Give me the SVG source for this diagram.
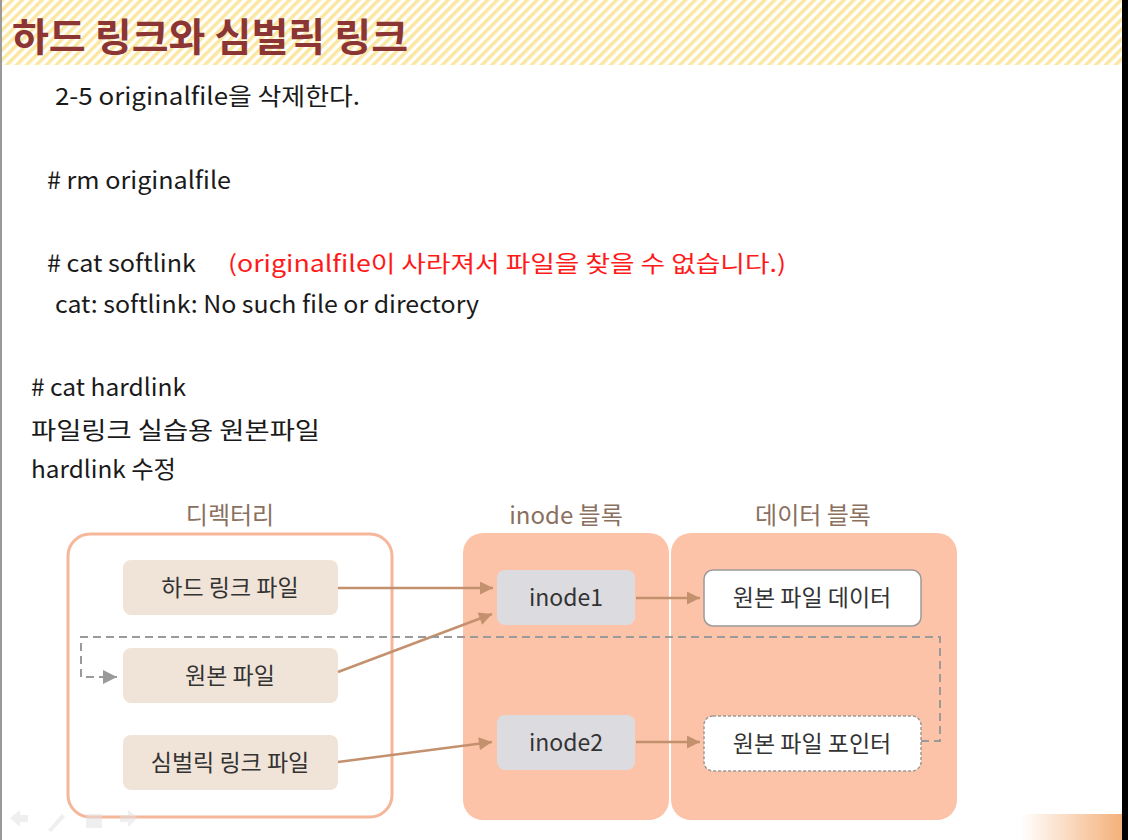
<svg xmlns="http://www.w3.org/2000/svg" width="1128" height="840" viewBox="0 0 1128 840">
<defs>
<pattern id="stripes" width="7" height="7" patternUnits="userSpaceOnUse" patternTransform="rotate(45)">
<rect width="7" height="7" fill="#ffffff"/>
<rect width="3.5" height="7" fill="#fbe7a2"/>
</pattern>
<linearGradient id="br" x1="0" y1="0" x2="1" y2="0">
<stop offset="0" stop-color="#f7b27c" stop-opacity="0"/>
<stop offset="1" stop-color="#f4b07a"/>
</linearGradient>
<marker id="ah" viewBox="0 0 10 10" refX="10" refY="5" markerWidth="14" markerHeight="13" markerUnits="userSpaceOnUse" orient="auto">
<path d="M0,0 L10,5 L0,10 z" fill="#c4916e"/>
</marker>
<marker id="ahg" viewBox="0 0 10 10" refX="10" refY="5" markerWidth="16" markerHeight="14" markerUnits="userSpaceOnUse" orient="auto">
<path d="M0,0 L10,5 L0,10 z" fill="#9a9a9a"/>
</marker>
</defs>
<style>
.t{font-family:"Noto Sans CJK KR","Noto Sans",sans-serif;font-size:24px;fill:#1a1a1a}
.red{fill:#ff1a1a;font-size:23px}
.lbl{font-family:"Noto Sans CJK KR","Noto Sans",sans-serif;font-size:24px;fill:#8a705e;text-anchor:middle}
.nt{font-family:"Noto Sans CJK KR","Noto Sans",sans-serif;font-size:23px;fill:#333333;text-anchor:middle}
.box{fill:#f0e4d9}
.ino{fill:#dcdbe0}
.blk{fill:#fdc3a8}
.arr{stroke:#c4916e;stroke-width:2.5;fill:none;marker-end:url(#ah)}
.dash{stroke:#9a9a9a;stroke-width:2;fill:none;stroke-dasharray:8,5}
</style>
<rect width="1128" height="840" fill="#ffffff"/>
<rect x="0" y="0" width="1122" height="65" fill="url(#stripes)"/>
<rect x="0" y="0" width="2" height="840" fill="#9a9a9a"/>
<rect x="1122" y="0" width="6" height="840" fill="#000000"/>
<rect x="1020" y="814" width="102" height="26" fill="url(#br)"/>
<text x="12" y="51" font-family="'Noto Sans CJK KR',sans-serif" font-size="39" font-weight="bold" fill="#8b3535" textLength="396" lengthAdjust="spacingAndGlyphs">하드 링크와 심벌릭 링크</text>

<g id="body-text">
<text class="t" x="55" y="105" textLength="305" lengthAdjust="spacingAndGlyphs">2-5 originalfile을 삭제한다.</text>
<text class="t" x="47" y="189" textLength="184" lengthAdjust="spacingAndGlyphs"># rm originalfile</text>
<text class="t" x="47" y="272" textLength="149" lengthAdjust="spacingAndGlyphs"># cat softlink</text>
<text class="t red" x="228" y="272" textLength="558" lengthAdjust="spacingAndGlyphs">(originalfile이 사라져서 파일을 찾을 수 없습니다.)</text>
<text class="t" x="55" y="313" textLength="424" lengthAdjust="spacingAndGlyphs">cat: softlink: No such file or directory</text>
<text class="t" x="31" y="396" textLength="155" lengthAdjust="spacingAndGlyphs"># cat hardlink</text>
<text class="t" x="31" y="439" textLength="289" lengthAdjust="spacingAndGlyphs">파일링크 실습용 원본파일</text>
<text class="t" x="31" y="478" textLength="145" lengthAdjust="spacingAndGlyphs">hardlink 수정</text>
</g>

<g id="labels">
<text class="lbl" x="230" y="524">디렉터리</text>
<text class="lbl" x="566" y="524">inode 블록</text>
<text class="lbl" x="813" y="524">데이터 블록</text>
</g>

<g id="directory">
<rect x="68" y="534" width="324" height="283" rx="22" fill="#ffffff" stroke="#f6b69a" stroke-width="3"/>
</g>
<g id="inode-block"><rect class="blk" x="463" y="533" width="206" height="287" rx="20"/></g>
<g id="data-block"><rect class="blk" x="671" y="533" width="286" height="287" rx="20"/></g>

<g id="hardlink-file"><rect class="box" x="123" y="560" width="215" height="55" rx="8"/><text class="nt" x="230" y="596">하드 링크 파일</text></g>
<g id="original-file"><rect class="box" x="123" y="648" width="215" height="55" rx="8"/><text class="nt" x="230" y="684">원본 파일</text></g>
<g id="symlink-file"><rect class="box" x="123" y="735" width="215" height="55" rx="8"/><text class="nt" x="230" y="771">심벌릭 링크 파일</text></g>

<g id="inode1"><rect class="ino" x="497" y="570" width="138" height="55" rx="8"/><text class="nt" x="566" y="606">inode1</text></g>
<g id="inode2"><rect class="ino" x="497" y="715" width="138" height="55" rx="8"/><text class="nt" x="566" y="751">inode2</text></g>

<g id="data"><rect x="704" y="570" width="217" height="56" rx="9" fill="#ffffff" stroke="#9a9a9a" stroke-width="1.5"/><text class="nt" x="812" y="606">원본 파일 데이터</text></g>
<g id="pointer"><rect x="704" y="716" width="217" height="55" rx="9" fill="#ffffff" stroke="#9a9a9a" stroke-width="1.5" stroke-dasharray="3,2"/><text class="nt" x="812" y="752">원본 파일 포인터</text></g>

<g id="connectors">
<line class="arr" x1="338" y1="588" x2="493" y2="588"/>
<line class="arr" x1="338" y1="672" x2="492" y2="614"/>
<line class="arr" x1="338" y1="762" x2="492" y2="742"/>
<line class="arr" x1="636" y1="598" x2="700" y2="598"/>
<line class="arr" x1="636" y1="742" x2="700" y2="742"/>
<path class="dash" d="M921,741 H940 V637 H81 V677 H117" marker-end="url(#ahg)"/>
</g>

<g id="nav" opacity="0.5" fill="#e0e0e0">
<path d="M10,818 L20,810 L20,815 L28,815 L28,822 L20,822 L20,827 z"/>
<path d="M48,830 L62,814 L65,817 L51,832 z"/>
<rect x="86" y="814" width="16" height="14"/>
<path d="M138,818 L128,810 L128,815 L120,815 L120,822 L128,822 L128,827 z"/>
</g>
</svg>
